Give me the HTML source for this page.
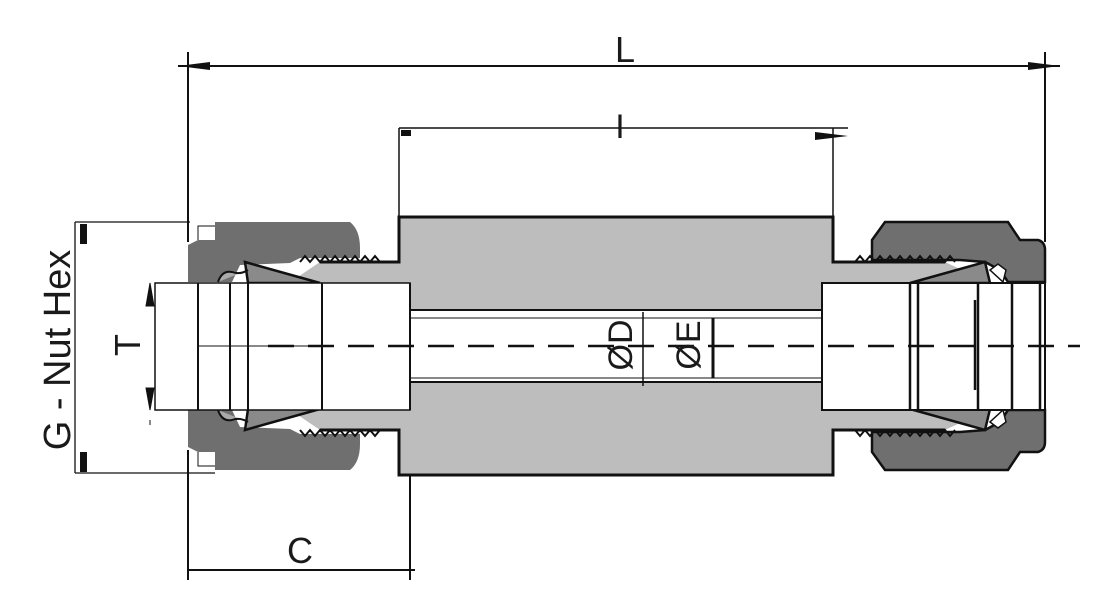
<!DOCTYPE html>
<html><head><meta charset="utf-8"><style>
html,body{margin:0;padding:0;background:#fff;}
svg{display:block;}
text{font-family:"Liberation Sans",sans-serif;fill:#1a1a1a;}
</style></head><body>
<svg width="1095" height="600" viewBox="0 0 1095 600" xmlns="http://www.w3.org/2000/svg">
<g id="top">
  <!-- body top half -->
  <path d="M286,285 L320,262 L399,262 L399,217 L833,217 L833,262 L945,262 L990,283 L822,285 L822,310 L410,310 L410,285 Z" fill="#bdbdbd"/>
  <path d="M320,262 L399,262 L399,217 L833,217 L833,262 L945,262" fill="none" stroke="#111" stroke-width="3"/>
  <path d="M410,285 L410,310 L822,310 L822,285" fill="none" stroke="#111" stroke-width="2"/>
  <!-- left nut -->
  <path d="M188,282 L188,245 L198,240 L215,240 L215,222 L350,222 Q360,230 360,248 L360,258 L300,258 L290,263 L240,265 L232,282 Z" fill="#6f6f6f"/>
  <path d="M198,240 L198,226 L215,226" fill="none" stroke="#111" stroke-width="1"/>
  <path d="M300,262 l5,-6 l5,6 l5,-6 l5,6 l5,-6 l5,6 l5,-6 l5,6 l5,-6 l5,6 l5,-6 l5,6 l5,-6 l5,6 l5,-6 l5,6" fill="none" stroke="#111" stroke-width="2"/>
  <!-- left ferrule -->
  <path d="M245,262 L320,283 L248,283 Z" fill="#8a8a8a" stroke="#111" stroke-width="2.5"/>
  <path d="M218,282 Q222,270 232,272 Q240,275 248,270" fill="#aaa" stroke="#111" stroke-width="2"/>
  <!-- right nut -->
  <path d="M872,258 L872,240 L885,222 L1008,222 L1020,240 L1038,240 Q1045,242 1045,250 L1045,282 L1008,282 L1000,270 L985,262 L960,260 L872,260 Z" fill="#6f6f6f" stroke="#111" stroke-width="2.5"/>
  <path d="M855,262 l5,-6 l5,6 l5,-6 l5,6 l5,-6 l5,6 l5,-6 l5,6 l5,-6 l5,6 l5,-6 l5,6 l5,-6 l5,6 l5,-6 l5,6 l5,-6 l5,6 l5,-6 l5,6" fill="none" stroke="#111" stroke-width="2"/>
  <path d="M910,283 L985,262 L990,283 Z" fill="#8a8a8a" stroke="#111" stroke-width="2.5"/>
  <path d="M990,270 l8,-6 l8,6 l-3,12 z" fill="#fff" stroke="#111" stroke-width="1.5"/>
</g>
<use href="#top" transform="matrix(1,0,0,-1,0,692)"/>
<!-- tubes -->
<rect x="155" y="283" width="255" height="127" fill="#fff" stroke="#111" stroke-width="1.5"/>
<path d="M248,283V410 M322,283V410 M410,283V410 M198,283V410 M230,283V410" stroke="#111" stroke-width="2" fill="none"/>
<path d="M198,346H322" stroke="#111" stroke-width="1"/>
<rect x="822" y="283" width="223" height="127" fill="#fff" stroke="#111" stroke-width="2"/>
<path d="M910,283V410 M918,283V410 M978,283V410 M1012,283V410 M1040,283V410 M975,300V390" stroke="#111" stroke-width="2.5" fill="none"/>
<!-- bore lines -->
<path d="M410,318H822 M410,378H822" stroke="#111" stroke-width="1"/>
<path d="M643,312V386" stroke="#111" stroke-width="1.5"/>
<path d="M713,318V378" stroke="#111" stroke-width="3"/>
<!-- centerline -->
<path d="M268,346H1080" stroke="#111" stroke-width="2.5" stroke-dasharray="26,14"/>
<!-- dims -->
<path d="M178,66H1060 M188,52V242 M1045,52V242" stroke="#111" stroke-width="2" fill="none"/>
<path d="M178,66 L210,62 L210,70 Z M1060,66 L1028,62 L1028,70 Z" fill="#111"/>
<path d="M399,128H848 M399,128V217 M833,128V217" stroke="#111" stroke-width="1.5" fill="none"/>
<rect x="401" y="130" width="10" height="6" fill="#111"/>
<path d="M848,136 L815,132 L815,140 Z" fill="#111"/>
<path d="M188,450V580 M410,476V580 M188,570H415" stroke="#111" stroke-width="2" fill="none"/>
<path d="M75,222V473 M75,222H190 M75,473H215" stroke="#111" stroke-width="1.3" fill="none"/>
<rect x="80" y="224" width="7" height="20" fill="#111"/><rect x="80" y="452" width="7" height="20" fill="#111"/>
<path d="M150,283L146,306H154Z M150,410 L146,388 H154Z M150,420V425" fill="#111" stroke="#111"/>
<text x="625" y="62" font-size="36" text-anchor="middle">L</text>
<text x="620" y="138" font-size="34" text-anchor="middle">I</text>
<text x="300" y="563" font-size="36" text-anchor="middle">C</text>
<text transform="translate(70,350) rotate(-90)" font-size="38" text-anchor="middle">G - Nut Hex</text>
<text transform="translate(140,345) rotate(-90)" font-size="36" text-anchor="middle">T</text>
<text transform="translate(632,345) rotate(-90)" font-size="34" text-anchor="middle">ØD</text>
<text transform="translate(700,345) rotate(-90)" font-size="34" text-anchor="middle">ØE</text>
</svg>
</body></html>
